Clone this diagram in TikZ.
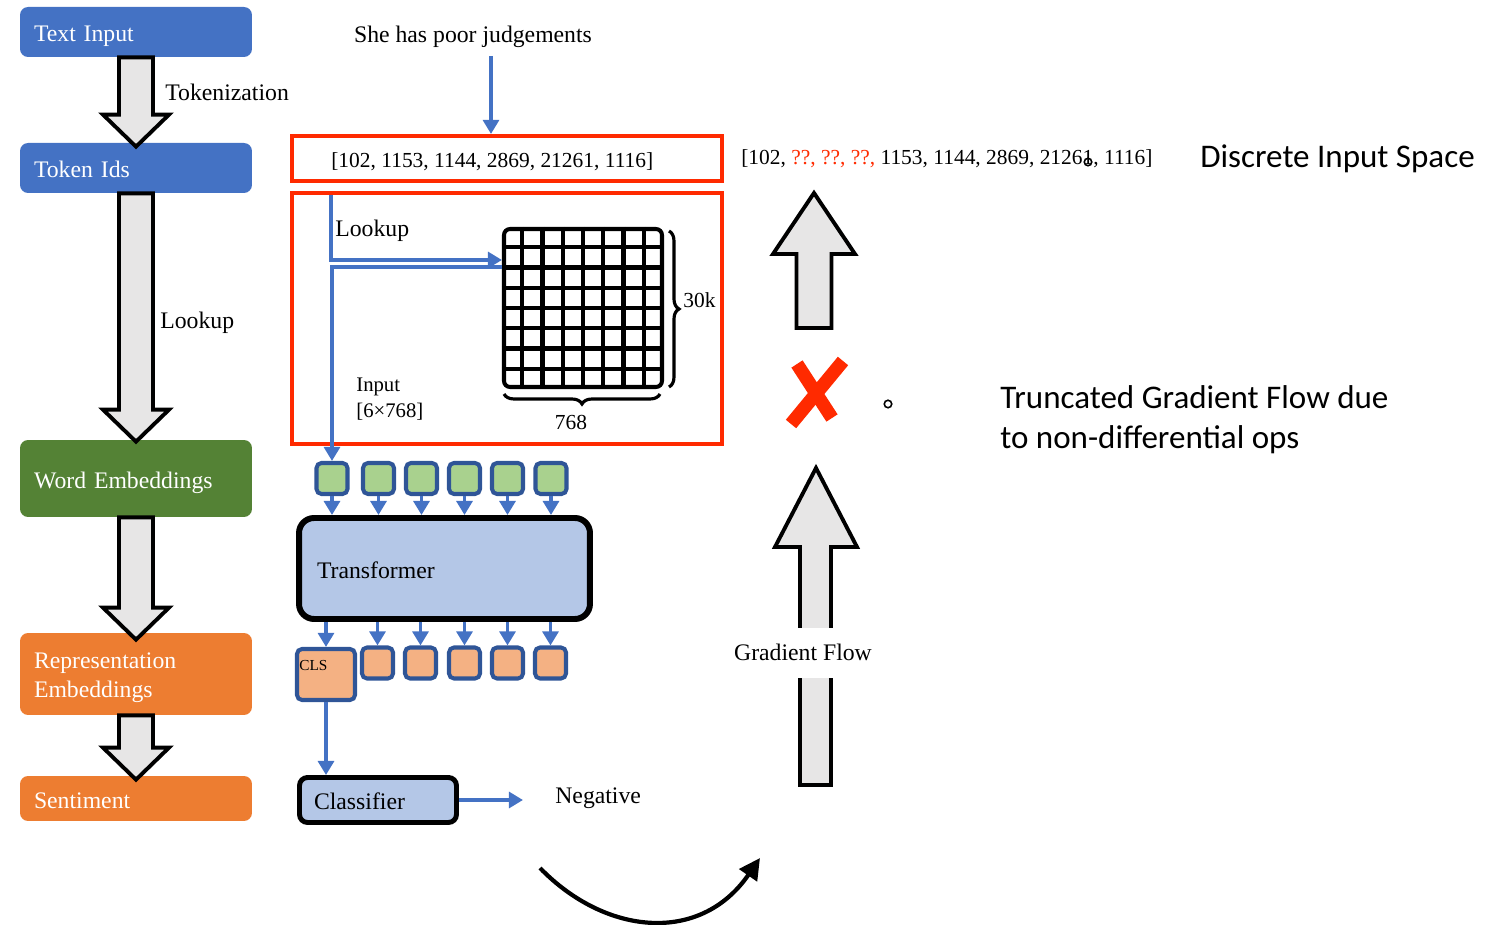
\documentclass[tikz,border=0pt]{standalone}
\usepackage{fontspec}
\setmainfont{Liberation Serif}
\newfontfamily\carl{Carlito}
\usetikzlibrary{calc,arrows.meta,decorations.pathreplacing}
\definecolor{boxblue}{HTML}{4472C4}
\definecolor{boxgreen}{HTML}{548235}
\definecolor{boxorange}{HTML}{ED7D31}
\definecolor{xred}{HTML}{FF2A00}
\definecolor{lblue}{HTML}{B4C7E7}
\definecolor{sqgreen}{HTML}{A9D18E}
\definecolor{sqorange}{HTML}{F4B183}
\definecolor{sqborder}{HTML}{2F5597}
\definecolor{arrgray}{HTML}{E7E6E6}
\newcommand\fmain{\fontsize{13.5}{16.4}\selectfont}
\newcommand\fnum{\fontsize{12.2}{14}\selectfont}
\newcommand\fsans{\carl\fontsize{18.8}{22.7}\selectfont}
\newcommand\lowr[2]{\raisebox{-#1}[\height][\depth]{#2}}
\newcommand\blockdown[2]{%
  \draw[blk] ($(#1)+(-17,0)$) -- ($(#2)+(-17,-32)$) -- ($(#2)+(-33,-32)$) -- (#2)
    -- ($(#2)+(33,-32)$) -- ($(#2)+(17,-32)$) -- ($(#1)+(17,0)$) -- cycle;}
\tikzset{
  lbox/.style={rectangle, rounded corners=0.16cm, minimum width=4.64cm, text width=4.08cm,
    inner xsep=0.28cm, inner ysep=0pt, align=left, text=white, font=\fmain},
  blk/.style={draw=black, line width=2.2pt, fill=arrgray, line join=miter},
  barrow/.style={draw=boxblue, line width=2.1pt, -{Triangle[width=9pt,length=8pt]}},
  redbox/.style={draw=xred, line width=2.3pt, rectangle, inner sep=0pt, minimum width=8.6cm},
  sqg/.style={rectangle, rounded corners=0.1cm, draw=sqborder, line width=2.3pt, fill=sqgreen,
    minimum size=0.62cm, inner sep=0pt},
  sqo/.style={sqg, fill=sqorange},
  bigbox/.style={rectangle, draw=black, fill=lblue, align=left, font=\fmain, inner ysep=0pt},
  txt/.style={font=\fmain, inner sep=0pt, yshift=-1.6pt},
  xstroke/.style={draw=xred, line width=7.6pt},
  curvearrow/.style={draw=black, line width=2.4pt, -{Triangle[width=12pt,length=12pt]}},
}
\begin{document}
\begin{tikzpicture}[x=0.02cm,y=-0.02cm]
\useasboundingbox (0,0) rectangle (1499,925);

% left column
\node[lbox, fill=boxblue, minimum height=1cm] (ti) at (136,32) {\lowr{2.2pt}{Text Input}};
\node[lbox, fill=boxblue, minimum height=1cm] (tk) at (136,168) {\lowr{1pt}{Token Ids}};
\node[lbox, fill=boxgreen, minimum height=1.54cm] (we) at (136,478.5) {\lowr{2.2pt}{Word Embeddings}};
\node[lbox, fill=boxorange, minimum height=1.64cm] (re) at (136,674) {\lowr{2.2pt}{Representation}\\\lowr{2.2pt}{Embeddings}};
\node[lbox, fill=boxorange, minimum height=0.9cm] (se) at (136,798.5) {\lowr{1.2pt}{Sentiment}};

\coordinate (t1) at ($(tk.north)+(0,4)$);
\coordinate (t2) at ($(we.north)+(0,2)$);
\coordinate (t3) at ($(re.north)+(0,7)$);
\coordinate (t4) at ($(se.north)+(0,4)$);
\blockdown{ti.south}{t1}
\blockdown{tk.south}{t2}
\blockdown{we.south}{t3}
\blockdown{re.south}{t4}
\node[txt, anchor=west] (tokl) at (165,90) {Tokenization};
\node[txt, anchor=west] (lkl) at (160,320) {Lookup};

% middle
\node[txt] (sh) at (473,34) {She has poor judgements};
\node[redbox, minimum height=0.9cm] (rb1) at (507,158.5) {};
\node[inner sep=0pt, font=\fnum, anchor=west] (ids) at (331,162) {[102, 1153, 1144, 2869, 21261, 1116]};
\coordinate (shs) at ($(sh.south)+(18,8)$);
\draw[barrow] (shs) -- (shs |- rb1.north);

\node[redbox, minimum height=5.02cm] (rb2) at (507,318.5) {};
\node[txt, anchor=west] (lk2) at (335,228) {Lookup};

% embedding matrix
\node[rectangle, draw=black, line width=2.3pt, rounded corners=0.12cm, minimum size=3.16cm, inner sep=0pt] (emb) at (583,308) {};
\foreach \i in {1,...,7} {
  \draw[line width=2.3pt] ($(emb.north west)!\i/8!(emb.north east)$) -- ($(emb.south west)!\i/8!(emb.south east)$);
  \draw[line width=2.3pt] ($(emb.north west)!\i/8!(emb.south west)$) -- ($(emb.north east)!\i/8!(emb.south east)$);
}
\draw[line width=1.8pt, decorate, decoration={brace, amplitude=0.2cm}] (669,231) -- (669,387);
\draw[line width=1.8pt, decorate, decoration={brace, amplitude=0.2cm}] (660,394) -- (504,394);
\node[inner sep=0pt, font=\fnum, anchor=west] (k30) at (683,300) {30k};
\node[inner sep=0pt, font=\fnum] (d768) at (571,422) {768};
\node[inner sep=0pt, font=\fontsize{11.8}{14.7}\selectfont, anchor=west, align=left] (inp) at (356,399) {Input\\{}[6×768]};

% tokens
\node[sqg] (g1) at (332,478.5) {};
\node[sqg] (g2) at (378.5,478.5) {};
\node[sqg] (g3) at (421.5,478.5) {};
\node[sqg] (g4) at (464.5,478.5) {};
\node[sqg] (g5) at (507.5,478.5) {};
\node[sqg] (g6) at (551,478.5) {};

\coordinate (lk0) at (331,195);
\coordinate (lkA) at (331,260);
\coordinate (lkB) at (502,267);
\draw[barrow] (lk0) -- (lkA) -- (lkA -| emb.west);
\draw[barrow] (lkB) -| (g1.north);

\node[bigbox, line width=3.4pt, rounded corners=0.3cm, minimum width=5.82cm, minimum height=2.02cm,
  text width=5.1cm, inner xsep=0.36cm] (tr) at (444.5,568.5) {\lowr{1.2pt}{Transformer}};
\foreach \i in {1,...,6} \draw[barrow] (g\i.south) -- (g\i.south |- tr.north);

\node[sqo, minimum width=1.16cm, minimum height=1.02cm] (cls) at (326,674.5) {};
\node[inner sep=0pt, font=\fontsize{8.7}{10}\selectfont, anchor=west] (clsl) at (299,666) {CLS};
\node[sqo] (o2) at (377.5,663) {};
\node[sqo] (o3) at (420.5,663) {};
\node[sqo] (o4) at (464.5,663) {};
\node[sqo] (o5) at (507.5,663) {};
\node[sqo] (o6) at (550.5,663) {};
\foreach \n in {cls,o2,o3,o4,o5,o6} \draw[barrow] (tr.south -| \n.north) -- (\n.north);

\node[bigbox, line width=2.8pt, rounded corners=0.16cm, minimum width=3.14cm, minimum height=0.9cm,
  text width=2.56cm, inner xsep=0.29cm] (clf) at (378,800) {\lowr{0.6pt}{Classifier}};
\draw[barrow] (cls.south) -- (cls.south |- clf.north);
\coordinate (negA) at (523,800);
\draw[barrow] (clf.east) -- (negA);
\node[txt, anchor=west] (neg) at (555,795) {Negative};

\coordinate (cs) at (540,868);
\coordinate (ce) at (760,858);
\draw[curvearrow] (cs) .. controls (605,935) and (700,945) .. (ce);

% right part
\node[inner sep=0pt, font=\fnum, anchor=west] (ids2) at (741,159) {[102, {\color{xred}??, ??, ??,} 1153, 1144, 2869, 21261, 1116]};
\node[circle, draw, line width=0.9pt, inner sep=0pt, minimum size=0.15cm] (c1) at (1088,162) {};
\node[circle, draw, line width=0.9pt, inner sep=0pt, minimum size=0.15cm] (c2) at (888,404) {};
\node[inner sep=0pt, font=\fsans, anchor=west] (dis) at (1200,159) {Discrete Input Space};
\node[inner sep=0pt, font=\fsans, anchor=west, align=left] (trunc) at (1000,420) {Truncated Gradient Flow due\\to non-differential ops};

\draw[blk] (796.5,328) -- (796.5,254) -- (773,254) -- (814,193) -- (855,254) -- (831.5,254) -- (831.5,328) -- cycle;
\draw[xstroke] (797,364) -- (832,418);
\draw[xstroke] (843,361) -- (791,424);
\draw[blk] (800,785) -- (800,547) -- (775,547) -- (816,468) -- (857,547) -- (831,547) -- (831,785) -- cycle;
\node[txt, fill=white, minimum height=1cm, inner xsep=2pt] (gf) at (803,650) {Gradient Flow};
\end{tikzpicture}
\end{document}
